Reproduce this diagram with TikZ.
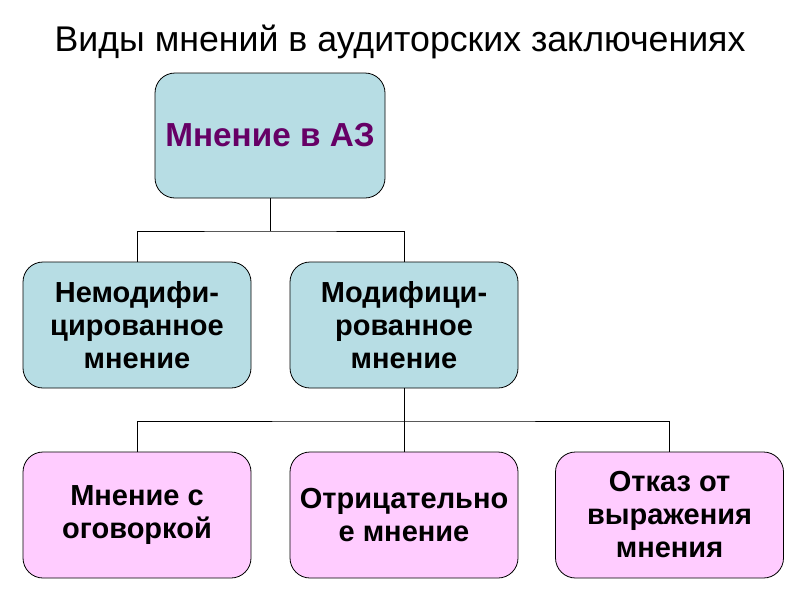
\documentclass[tikz,border=0pt]{standalone}
\usepackage{fontspec}
\setmainfont{Liberation Sans}
\begin{document}
\begin{tikzpicture}[x=1pt,y=-1pt,
  box/.style={draw=black, line width=0.8pt, rounded corners=20pt, minimum width=228pt, minimum height=126pt, align=center, font=\fontsize{29}{33}\selectfont\bfseries, inner sep=2pt},
  bluebox/.style={box, fill=boxblue},
  pinkbox/.style={box, fill=boxpink},
  conn/.style={draw=black, line width=1pt}]
\definecolor{boxblue}{RGB}{183,221,228}
\definecolor{boxpink}{RGB}{255,204,255}
\definecolor{titlepurple}{RGB}{102,0,102}
\useasboundingbox (0,0) rectangle (800,600);
\node[font=\fontsize{35.7}{40}\selectfont] (title) at (400,42) {Виды мнений в аудиторских заключениях};
\node[bluebox, minimum width=230pt, minimum height=125pt, text=titlepurple, font=\fontsize{33.3}{38}\selectfont\bfseries] (top) at (270,135.5) {Мнение в АЗ};
\node[bluebox] (ml) at (137,325) {Немодифи-\\цированное\\мнение};
\node[bluebox] (mr) at (404,325) {Модифици-\\рованное\\мнение};
\node[pinkbox] (bl) at (137,515) {Мнение с\\оговоркой};
\node[pinkbox] (bm) at (404,515) {Отрицательно\\е мнение};
\node[pinkbox] (br) at (669.5,515) {Отказ от\\выражения\\мнения};
\coordinate (j1) at (270,231);
\coordinate (j2) at (404,421);
\draw[conn] (top.south) -- (j1);
\draw[conn] (ml.north) |- (j1) -| (mr.north);
\draw[conn] (mr.south) -- (j2);
\draw[conn] (bl.north) |- (j2) -| (br.north);
\draw[conn] (j2) -- (bm.north);
\end{tikzpicture}
\end{document}
